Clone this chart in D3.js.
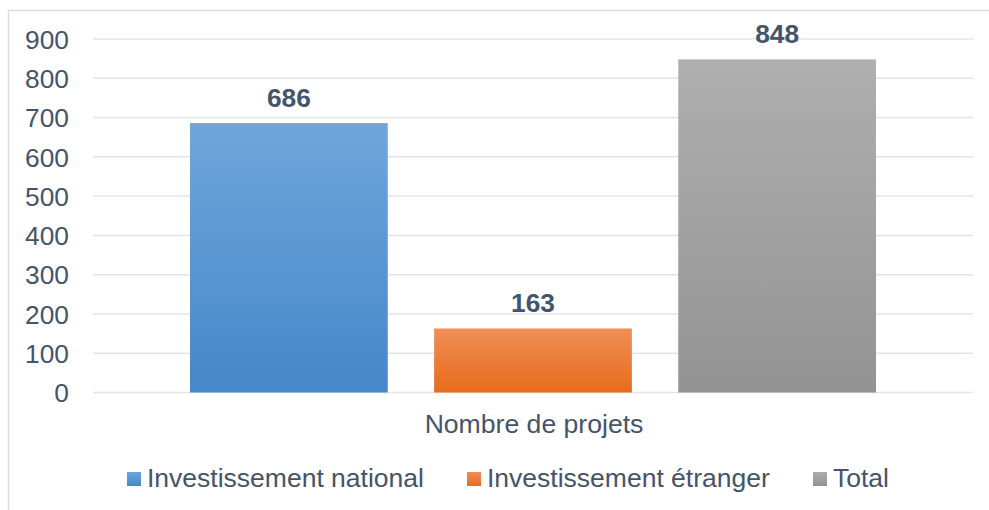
<!DOCTYPE html>
<html>
<head>
<meta charset="utf-8">
<script src="https://cdn.jsdelivr.net/npm/d3@7/dist/d3.min.js"></script>
<style>
  html, body { margin: 0; padding: 0; background: #fff; }
  svg { display: block; font-family: "Liberation Sans", Arial, sans-serif; }
</style>
</head>
<body>
<svg id="chart" width="989" height="510"></svg>
<script>
// Data
const categories = ["Nombre de projets"];
const seriesNames = ["Investissement national", "Investissement étranger", "Total"];
const seriesValues = [686, 163, 848];
const tickValues = [0, 100, 200, 300, 400, 500, 600, 700, 800, 900];

// Fill colours per series: [top, bottom] of the vertical gradient
const seriesColors = [
  ["#70A6DB", "#4487CA"],
  ["#F18E57", "#E66C1B"],
  ["#AFAFAF", "#939393"]
];

const textColor = "#44546A";
const gridColor = "#E1E4EA";

const svg = d3.select("#chart");

// Chart frame (right and bottom edges run past the visible area)
svg.append("rect")
  .attr("x", 8.5).attr("y", 10.5)
  .attr("width", 1000).attr("height", 520)
  .attr("fill", "#fff")
  .attr("stroke", "#D9DEE5")
  .attr("stroke-width", 1.5);

const plot = { left: 93, right: 973, top: 39, bottom: 392.5 };

const y = d3.scaleLinear().domain([0, 900]).range([plot.bottom, plot.top]);

const x0 = d3.scaleBand()
  .domain(categories)
  .range([plot.left, plot.right])
  .paddingInner(0)
  .paddingOuter(0.1414);

const x1 = d3.scaleBand()
  .domain(seriesNames)
  .range([0, x0.bandwidth()])
  .paddingInner(0.19)
  .paddingOuter(0);

// Gradients
const defs = svg.append("defs");
seriesColors.forEach((c, i) => {
  const g = defs.append("linearGradient")
    .attr("id", "grad" + i)
    .attr("x1", 0).attr("y1", 0).attr("x2", 0).attr("y2", 1);
  g.append("stop").attr("offset", "0%").attr("stop-color", c[0]);
  g.append("stop").attr("offset", "100%").attr("stop-color", c[1]);
});

// Gridlines
svg.append("g")
  .selectAll("line")
  .data(tickValues)
  .join("line")
  .attr("x1", plot.left).attr("x2", plot.right)
  .attr("y1", d => y(d)).attr("y2", d => y(d))
  .attr("stroke", gridColor)
  .attr("stroke-width", 1.5);

// Y axis labels
const yAxis = d3.axisLeft(y).tickValues(tickValues).tickSize(0).tickPadding(0);
const yG = svg.append("g")
  .attr("transform", `translate(69,0)`)
  .call(yAxis);
yG.select(".domain").remove();
yG.selectAll("text")
  .attr("fill", textColor)
  .attr("font-size", "26.3px")
  .attr("font-family", "Liberation Sans, Arial, sans-serif")
  .attr("dy", "0.35em");

// Bars
const rows = seriesNames.map((name, i) => ({ name, value: seriesValues[i], i }));
const group = svg.append("g")
  .attr("transform", `translate(${x0(categories[0])},0)`);

group.selectAll("rect")
  .data(rows)
  .join("rect")
  .attr("x", d => x1(d.name))
  .attr("y", d => y(d.value))
  .attr("width", x1.bandwidth())
  .attr("height", d => y(0) - y(d.value))
  .attr("fill", d => `url(#grad${d.i})`);

// Value labels
group.selectAll("text.val")
  .data(rows)
  .join("text")
  .attr("class", "val")
  .attr("x", d => x1(d.name) + x1.bandwidth() / 2)
  .attr("y", d => y(d.value) - 16.5)
  .attr("text-anchor", "middle")
  .attr("font-size", "26.3px")
  .attr("font-weight", "bold")
  .attr("fill", textColor)
  .text(d => d.value);

// Category label
const xAxis = d3.axisBottom(x0).tickSize(0).tickPadding(0);
const xG = svg.append("g")
  .attr("transform", `translate(1,433)`)
  .call(xAxis);
xG.select(".domain").remove();
xG.selectAll("text")
  .attr("fill", textColor)
  .attr("font-size", "26.6px")
  .attr("font-family", "Liberation Sans, Arial, sans-serif")
  .attr("dy", 0);

// Legend
const legendX = [127, 467, 813];
const legend = svg.append("g");
const items = legend.selectAll("g")
  .data(rows)
  .join("g")
  .attr("transform", (d, i) => `translate(${legendX[i]},472)`);
items.append("rect")
  .attr("width", 14).attr("height", 14)
  .attr("fill", d => `url(#grad${d.i})`);
items.append("text")
  .attr("x", 20).attr("y", 15)
  .attr("font-size", "26.5px")
  .attr("fill", textColor)
  .text(d => d.name);
</script>
</body>
</html>
